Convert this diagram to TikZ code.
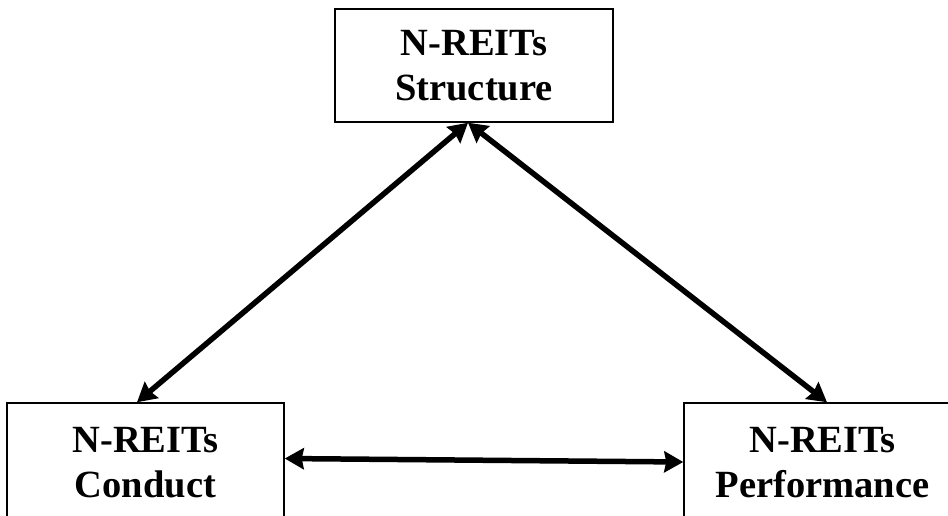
\documentclass[tikz,border=0pt]{standalone}
\usepackage{fontspec}
\setmainfont{Liberation Serif}
\usetikzlibrary{arrows.meta}
\begin{document}
\begin{tikzpicture}[x=1pt,y=-1pt,
  box/.style={draw=black,line width=1.5pt,align=center,inner sep=0pt,
    font=\fontsize{38.5}{45}\selectfont\bfseries},
  link/.style={line width=5.5pt,{Stealth[length=19pt,width=21pt,inset=2pt]}-{Stealth[length=19pt,width=21pt,inset=2pt]}}]
\clip (0,0) rectangle (948,515);
\fill[white] (0,0) rectangle (948,515);
\node[box,minimum width=278pt,minimum height=113pt] (T) at (474,65.5) {N-REITs\\Structure};
\node[box,minimum width=277pt,minimum height=120pt] (L) at (145.5,463) {N-REITs\\Conduct};
\node[box,minimum width=277pt,minimum height=120pt] (R) at (822.5,463) {N-REITs\\Performance};
\draw[link] ([xshift=-8.5pt]L.north) -- ([xshift=-6pt]T.south);
\draw[link] ([xshift=-6pt]T.south) -- ([xshift=4.5pt]R.north);
\draw[link] ([yshift=4.5pt]L.east) -- ([yshift=1pt]R.west);
\end{tikzpicture}
\end{document}
